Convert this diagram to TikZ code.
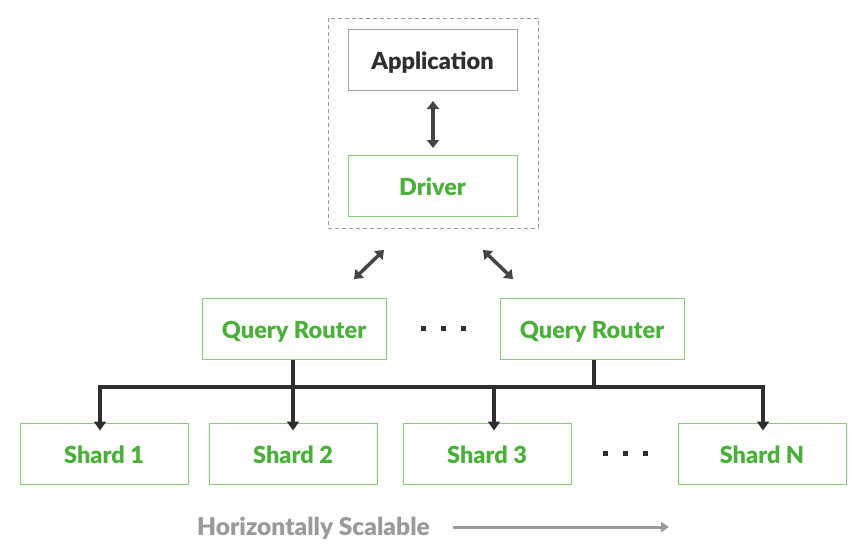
\documentclass[tikz,border=0pt]{standalone}
\usepackage{fontspec}
\setmainfont{Lato}[BoldFont={Lato Black}]
\usetikzlibrary{arrows.meta}
\definecolor{gtext}{HTML}{4CAF3C}
\definecolor{gline}{HTML}{8CCB7C}
\definecolor{dark}{HTML}{2E2E2E}
\definecolor{arr}{HTML}{444444}
\definecolor{lgray}{HTML}{9A9A9A}
\newcommand{\sq}{\textcolor{dark}{\rule{5pt}{5pt}}}
\tikzset{
  box/.style={draw=gline, line width=1pt, minimum width=168pt, minimum height=61pt, inner sep=0pt, text height=19pt, text depth=0pt, text=gtext, font=\fontsize{23.5}{26}\selectfont\bfseries},
  appbox/.style={box, draw=gray!70, text=dark, minimum width=169pt},
  qbox/.style={box, minimum width=184pt},
  dbl/.style={draw=arr, line width=3.5pt, {Triangle[length=8pt,width=12pt]}-{Triangle[length=8pt,width=12pt]}},
  bus/.style={draw=dark, line width=3.6pt},
  tip/.style={bus, -{Triangle[length=9pt,width=12pt]}},
  dots/.style={inner sep=0pt}
}
\begin{document}
\begin{tikzpicture}[x=1pt,y=-1pt]
\useasboundingbox (0,0) rectangle (868,547);
\draw[gray!80, line width=0.9pt, dash pattern=on 4pt off 3pt] (328,18) rectangle (538,228);
\node[appbox] (app) at (432.5,59.5) {Application};
\node[box, minimum width=169pt] (drv) at (432.5,185.5) {Driver};
\coordinate (a1) at (433,101);
\coordinate (a2) at (433,148);
\draw[dbl] (a1) -- (a2);
\coordinate (l1) at (384,250);
\coordinate (l2) at (354,279);
\draw[dbl] (l1) -- (l2);
\coordinate (r1) at (483,250);
\coordinate (r2) at (513,279);
\draw[dbl] (r1) -- (r2);
\node[qbox] (q1) at (294,328.5) {Query Router};
\node[qbox] (q2) at (592,328.5) {Query Router};
\node[dots] (d1) at (443.5,328.5) {\sq\hspace{15pt}\sq\hspace{15pt}\sq};
\node[box] (s1) at (104,453.5) {Shard 1};
\node[box] (s2) at (293,453.5) {Shard 2};
\node[box] (s3) at (487,453.5) {Shard 3};
\node[box] (sn) at (762,453.5) {Shard N};
\node[dots] (d2) at (625.5,453.5) {\sq\hspace{15pt}\sq\hspace{15pt}\sq};
\coordinate (b1) at (100,387);
\coordinate (b2) at (763,387);
\coordinate (j1) at (293,387);
\coordinate (j2) at (594,387);
\coordinate (j3) at (494,387);
\draw[bus] (q1.south -| j1) -- (j1);
\draw[bus] (q2.south -| j2) -- (j2);
\draw[bus, line cap=rect] (b1) -- (b2);
\draw[tip] (b1) -- ([yshift=-8pt]b1 |- s1.north);
\draw[tip] (j1) -- ([yshift=-8pt]j1 |- s2.north);
\draw[tip] (j3) -- ([yshift=-8pt]j3 |- s3.north);
\draw[tip] (b2) -- ([yshift=-8pt]b2 |- sn.north);
\node[text=lgray, font=\fontsize{24.5}{26}\selectfont\bfseries, anchor=base west, inner sep=0pt] (hs) at (197,535) {Horizontally Scalable};
\coordinate (h1) at (453,527);
\coordinate (h2) at (669,527);
\draw[lgray, line width=3pt, -{Triangle[length=8pt,width=10pt]}] (h1) -- (h2);
\end{tikzpicture}
\end{document}
